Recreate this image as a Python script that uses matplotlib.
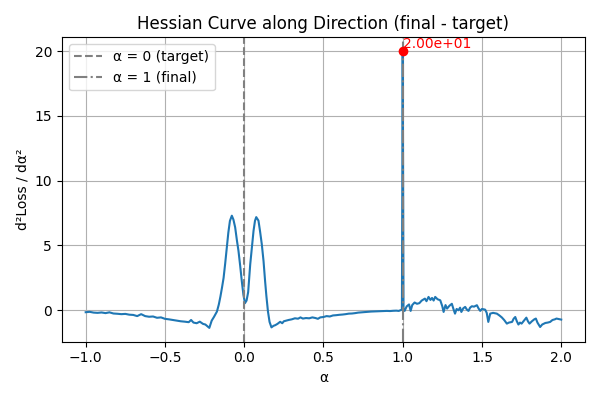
import numpy as np
import matplotlib.pyplot as plt

# alpha positions and hessian values
alphas = [
    -1.000, -0.975, -0.950, -0.925, -0.900, -0.875, -0.850, -0.825, -0.800, -0.775,
    -0.750, -0.725, -0.700, -0.675, -0.650, -0.625, -0.600, -0.575, -0.550, -0.525,
    -0.500, -0.475, -0.450, -0.425, -0.400, -0.375, -0.350, -0.335, -0.320, -0.300,
    -0.280, -0.260, -0.245, -0.230, -0.220, -0.205, -0.190, -0.172, -0.160, -0.150,
    -0.140, -0.130, -0.120, -0.110, -0.100, -0.090, -0.078, -0.068, -0.057, -0.046,
    -0.036, -0.025, -0.015, -0.005, 0.005, 0.015, 0.025, 0.038, 0.048, 0.059,
    0.068, 0.076, 0.090, 0.100, 0.111, 0.122, 0.132, 0.140, 0.150, 0.160,
    0.172, 0.185, 0.196, 0.210, 0.227, 0.240, 0.250, 0.265, 0.280, 0.300,
    0.320, 0.340, 0.355, 0.370, 0.390, 0.410, 0.430, 0.450, 0.465, 0.480,
    0.500, 0.520, 0.540, 0.560, 0.580, 0.600, 0.620, 0.640, 0.660, 0.680,
    0.700, 0.720, 0.740, 0.760, 0.780, 0.800, 0.820, 0.840, 0.860, 0.880,
    0.900, 0.920, 0.940, 0.960, 0.975, 0.985, 0.995, 1.000, 1.005, 1.012,
    1.025, 1.040, 1.050, 1.060, 1.075, 1.090, 1.105, 1.120, 1.140, 1.150,
    1.163, 1.175, 1.185, 1.195, 1.205, 1.220, 1.237, 1.250, 1.258, 1.270,
    1.280, 1.295, 1.310, 1.320, 1.330, 1.340, 1.352, 1.362, 1.370, 1.382,
    1.394, 1.405, 1.415, 1.425, 1.436, 1.450, 1.468, 1.478, 1.489, 1.500,
    1.520, 1.530, 1.540, 1.552, 1.570, 1.594, 1.610, 1.625, 1.640, 1.657,
    1.670, 1.690, 1.700, 1.710, 1.720, 1.730, 1.740, 1.750, 1.765, 1.780,
    1.790, 1.800, 1.815, 1.830, 1.840, 1.850, 1.867, 1.880, 1.900, 1.915,
    1.930, 1.945, 1.960, 1.970, 1.985, 2.000,
]
hessian = [
    -0.15, -0.12, -0.18, -0.20, -0.17, -0.22, -0.16, -0.25, -0.27, -0.30,
    -0.28, -0.34, -0.36, -0.45, -0.30, -0.45, -0.50, -0.48, -0.58, -0.55,
    -0.66, -0.70, -0.75, -0.80, -0.85, -0.88, -0.92, -0.75, -0.95, -1.00,
    -0.88, -1.05, -1.10, -1.25, -1.36, -0.80, -0.50, -0.10, 0.45, 1.06,
    1.75, 2.50, 3.60, 4.80, 6.00, 6.90, 7.30, 7.00, 6.40, 5.40,
    4.58, 3.40, 2.23, 1.20, 0.55, 0.75, 1.40, 3.54, 4.80, 6.14,
    6.90, 7.19, 6.92, 6.10, 5.10, 3.80, 2.23, 1.10, -0.10, -0.90,
    -1.32, -1.20, -1.15, -1.05, -0.89, -1.00, -0.85, -0.80, -0.75, -0.70,
    -0.62, -0.65, -0.55, -0.64, -0.60, -0.62, -0.55, -0.60, -0.66, -0.55,
    -0.52, -0.45, -0.48, -0.40, -0.38, -0.35, -0.33, -0.30, -0.26, -0.25,
    -0.22, -0.18, -0.16, -0.14, -0.12, -0.10, -0.09, -0.08, -0.07, -0.06,
    -0.05, -0.06, -0.04, -0.03, -0.05, 0.00, 0.05, 20.0, 0.15, -0.05,
    0.30, 0.45, -0.05, 0.40, 0.60, 0.50, 0.55, 0.75, 0.90, 0.70,
    1.03, 0.80, 0.95, 0.75, 1.03, 0.85, 0.77, 0.30, -0.13, 0.40,
    0.13, 0.35, 0.50, 0.10, -0.26, 0.10, 0.00, 0.20, -0.13, 0.15,
    0.26, 0.05, -0.05, 0.20, 0.31, 0.28, 0.39, 0.15, -0.05, 0.10,
    0.05, -0.20, -0.90, -0.26, -0.20, -0.26, -0.40, -0.55, -0.75, -1.03,
    -0.95, -0.90, -0.65, -0.52, -0.85, -1.10, -0.95, -1.03, -0.80, -0.57,
    -0.85, -1.03, -0.85, -0.70, -0.64, -0.95, -1.29, -1.10, -0.98, -0.95,
    -0.90, -0.75, -0.70, -0.64, -0.68, -0.72,
]

peak_alpha = 1.0
peak_value = 20.0

fig, ax = plt.subplots(figsize=(6, 4), dpi=100)
ax.plot(alphas, hessian)
ax.axvline(0, color='gray', linestyle='--', label='α = 0 (target)')
ax.axvline(1, color='gray', linestyle='-.', label='α = 1 (final)')
ax.plot(peak_alpha, peak_value, 'ro')
ax.text(peak_alpha, peak_value, f'{peak_value:.2e}', color='red', va='bottom')
ax.set_title('Hessian Curve along Direction (final - target)')
ax.set_xlabel('α')
ax.set_ylabel('d²Loss / dα²')
ax.legend(loc='upper left')
ax.grid(True)
fig.tight_layout()
fig.savefig('out.png')
